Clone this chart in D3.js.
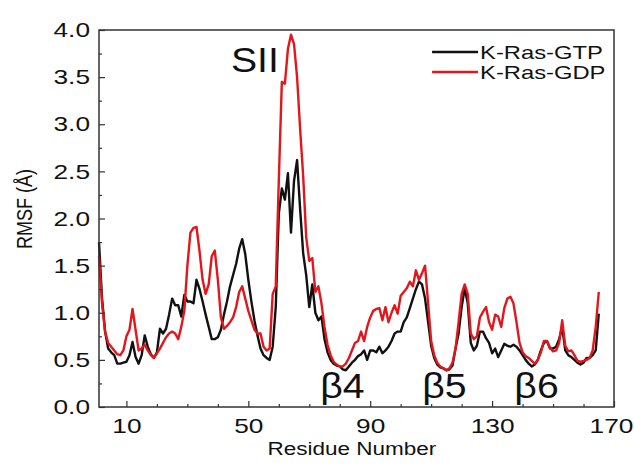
<!DOCTYPE html>
<html>
<head>
<meta charset="utf-8">
<script src="https://cdn.jsdelivr.net/npm/d3@7"></script>
<style>
  html, body { margin: 0; padding: 0; background: #fff; }
  svg { display: block; }
  text { font-family: "Liberation Sans", Arial, sans-serif; fill: #111; }
</style>
</head>
<body>
<svg id="chart" width="634" height="465"></svg>
<script>
// Residue numbers 1..165
const residues = d3.range(1, 166);

// RMSF (Å) per residue, K-Ras bound to GTP
const rmsfGTP = [
  1.75, 1.15, 0.80, 0.62, 0.58, 0.55, 0.46, 0.46, 0.47, 0.48,
  0.55, 0.69, 0.53, 0.46, 0.55, 0.76, 0.64, 0.56, 0.52, 0.58,
  0.83, 0.78, 0.83, 0.98, 1.15, 1.08, 1.08, 0.96, 1.19, 1.12,
  1.12, 1.10, 1.35, 1.25, 1.12, 0.98, 0.85, 0.72, 0.72, 0.74,
  0.82, 0.98, 1.12, 1.28, 1.40, 1.52, 1.68, 1.78, 1.62, 1.35,
  1.12, 0.92, 0.76, 0.62, 0.55, 0.52, 0.50, 0.64, 1.06, 2.05,
  2.32, 2.20, 2.48, 1.85, 2.40, 2.62, 2.10, 1.63, 1.40, 1.06,
  1.30, 1.00, 0.92, 0.96, 0.72, 0.58, 0.50, 0.46, 0.44, 0.43,
  0.40, 0.39, 0.43, 0.47, 0.50, 0.54, 0.56, 0.60, 0.50, 0.60,
  0.60, 0.58, 0.64, 0.57, 0.60, 0.64, 0.70, 0.78, 0.80, 0.80,
  0.90, 0.95, 1.05, 1.15, 1.25, 1.33, 1.30, 1.15, 0.90, 0.65,
  0.52, 0.45, 0.42, 0.41, 0.39, 0.40, 0.44, 0.62, 0.78, 1.06,
  1.26, 1.10, 0.68, 0.60, 0.65, 0.80, 0.80, 0.73, 0.68, 0.57,
  0.62, 0.53, 0.60, 0.67, 0.65, 0.64, 0.66, 0.64, 0.60, 0.55,
  0.50, 0.46, 0.43, 0.45, 0.50, 0.60, 0.68, 0.70, 0.62, 0.62,
  0.64, 0.72, 0.85, 0.60, 0.55, 0.53, 0.50, 0.47, 0.45, 0.47,
  0.52, 0.52, 0.55, 0.60, 0.99
];

// RMSF (Å) per residue, K-Ras bound to GDP
const rmsfGDP = [
  1.60, 1.10, 0.80, 0.68, 0.64, 0.60, 0.56, 0.55, 0.60, 0.75,
  0.82, 1.04, 0.82, 0.60, 0.62, 0.66, 0.60, 0.55, 0.52, 0.57,
  0.62, 0.68, 0.74, 0.78, 0.80, 0.78, 0.72, 0.85, 1.02, 1.50,
  1.85, 1.90, 1.91, 1.65, 1.35, 1.20, 1.30, 1.60, 1.66, 1.35,
  0.95, 0.83, 0.86, 0.90, 0.95, 1.06, 1.22, 1.28, 1.15, 1.02,
  0.92, 0.82, 0.78, 0.78, 0.64, 0.60, 0.62, 1.20, 1.28, 2.40,
  3.45, 3.43, 3.80, 3.95, 3.85, 3.50, 2.95, 2.45, 1.80, 1.55,
  1.58, 1.22, 1.28, 1.10, 0.85, 0.66, 0.55, 0.48, 0.45, 0.43,
  0.43, 0.46, 0.52, 0.60, 0.68, 0.70, 0.80, 0.70, 0.85, 0.95,
  1.02, 1.04, 1.05, 0.92, 1.06, 0.90, 1.00, 1.08, 0.99, 1.18,
  1.22, 1.26, 1.33, 1.28, 1.45, 1.35, 1.42, 1.50, 1.10, 0.70,
  0.55, 0.47, 0.43, 0.41, 0.39, 0.41, 0.47, 0.62, 0.90, 1.20,
  1.30, 1.20, 0.78, 0.72, 0.75, 0.95, 1.01, 1.06, 0.90, 0.82,
  0.98, 0.96, 0.85, 1.05, 1.15, 1.17, 1.10, 0.90, 0.68, 0.58,
  0.54, 0.52, 0.49, 0.46, 0.50, 0.58, 0.70, 0.70, 0.63, 0.59,
  0.60, 0.68, 0.92, 0.65, 0.59, 0.60, 0.55, 0.49, 0.48, 0.49,
  0.50, 0.52, 0.60, 0.85, 1.22
];

const xTickValues = [10, 50, 90, 130, 170];
const yTickValues = [0.0, 0.5, 1.0, 1.5, 2.0, 2.5, 3.0, 3.5, 4.0];
const seriesNames = ["K-Ras-GTP", "K-Ras-GDP"];
const seriesColors = ["#111111", "#e3161c"];
const regionLabels = [
  { text: "SII", residue: 44.3, value: 3.55 },
  { text: "β4", residue: 73.6, value: 0.1 },
  { text: "β5", residue: 107.1, value: 0.1 },
  { text: "β6", residue: 137.3, value: 0.1 }
];

const svg = d3.select("#chart");
const margin = { top: 30, right: 20, bottom: 58, left: 99 };
const W = 634, H = 465;
const innerW = W - margin.left - margin.right;
const innerH = H - margin.top - margin.bottom;
const stretch = 1.25; // wide typeface look

const x = d3.scaleLinear().domain([1, 170]).range([0, innerW]);
const y = d3.scaleLinear().domain([0, 4]).range([innerH, 0]);

const g = svg.append("g").attr("transform", `translate(${margin.left},${margin.top})`);

// series lines (GTP first, GDP over it)
const line = d3.line().x((d, i) => x(residues[i])).y(d => y(d));
[rmsfGTP, rmsfGDP].forEach((vals, k) => {
  g.append("path")
    .datum(vals)
    .attr("fill", "none")
    .attr("stroke", seriesColors[k])
    .attr("stroke-width", 2.4)
    .attr("stroke-linejoin", "round")
    .attr("d", line);
});

// minor ticks
const minorX = d3.range(10, 171, 10).filter(v => !xTickValues.includes(v));
const minorY = d3.range(0.25, 4, 0.5);
g.append("g").attr("transform", `translate(0,${innerH})`)
  .call(d3.axisBottom(x).tickValues(minorX).tickSize(-3).tickFormat(""))
  .call(a => a.select(".domain").remove())
  .selectAll("line").attr("stroke", "#333").attr("stroke-width", 1.2);
g.append("g")
  .call(d3.axisLeft(y).tickValues(minorY).tickSize(-3).tickFormat(""))
  .call(a => a.select(".domain").remove())
  .selectAll("line").attr("stroke", "#333").attr("stroke-width", 1.2);

// major axes
const xAxis = g.append("g").attr("transform", `translate(0,${innerH})`)
  .call(d3.axisBottom(x).tickValues(xTickValues).tickSize(-6).tickPadding(11).tickFormat(d3.format("d")));
const yAxis = g.append("g")
  .call(d3.axisLeft(y).tickValues(yTickValues).tickSize(-6).tickPadding(9).tickFormat(d3.format(".1f")));
[xAxis, yAxis].forEach(a => {
  a.select(".domain").remove();
  a.selectAll("line").attr("stroke", "#333").attr("stroke-width", 1.2);
  a.selectAll("text").attr("font-size", 21).attr("fill", "#111")
    .attr("font-family", "Liberation Sans, Arial, sans-serif");
});
xAxis.selectAll("text")
  .attr("transform", `scale(${stretch},1)`)
  .attr("dx", d => d === 170 ? -3 / stretch : 0);
yAxis.selectAll("text").attr("x", -9 / stretch).attr("transform", `scale(${stretch},1)`);

// frame
g.append("rect")
  .attr("width", innerW).attr("height", innerH)
  .attr("fill", "none").attr("stroke", "#333").attr("stroke-width", 1.5);

// axis titles
svg.append("text")
  .attr("transform", `translate(${margin.left + x(84)},${H - 10}) scale(${stretch},1)`)
  .attr("text-anchor", "middle").attr("font-size", 18)
  .text("Residue Number");
svg.append("text")
  .attr("transform", `translate(32,${margin.top + y(2.1)}) scale(${stretch},1) rotate(-90)`)
  .attr("text-anchor", "middle").attr("font-size", 18)
  .text("RMSF (Å)");

// region labels
regionLabels.forEach(l => {
  g.append("text")
    .attr("transform", `translate(${x(l.residue)},${y(l.value)}) scale(1.12,1)`)
    .attr("font-size", 35)
    .text(l.text);
});

// legend
const legend = g.append("g").attr("transform", `translate(${x(110.3)},22)`);
seriesNames.forEach((name, i) => {
  const row = legend.append("g").attr("transform", `translate(0,${i * 20})`);
  row.append("line").attr("x1", 0).attr("x2", 46)
    .attr("stroke", seriesColors[i]).attr("stroke-width", 2.4);
  row.append("text")
    .attr("transform", `translate(48,0) scale(${stretch},1)`)
    .attr("dy", "0.35em").attr("font-size", 19)
    .text(name);
});
</script>
</body>
</html>
